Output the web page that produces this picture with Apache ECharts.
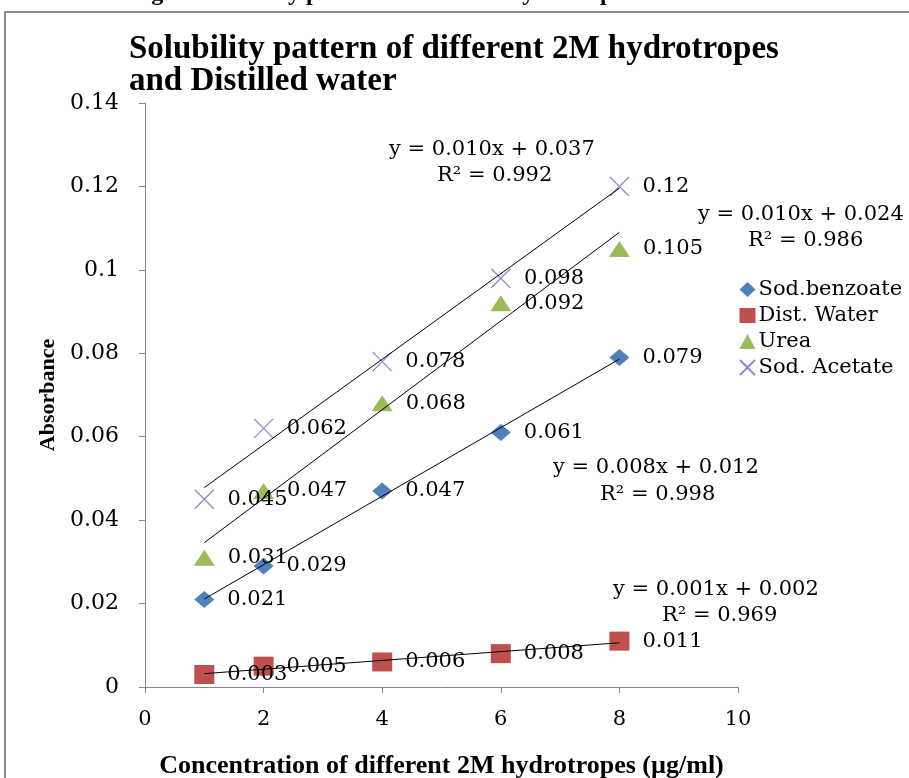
<!DOCTYPE html>
<html><head><meta charset="utf-8">
<script src="https://cdn.jsdelivr.net/npm/echarts@6/dist/echarts.min.js"></script>
<style>html,body{margin:0;padding:0;background:#fff}#c{width:909px;height:778px}</style>
</head><body><div id="c"></div>
<script>
var xValues = [1, 2, 4, 6, 8];
var sodBenzoate = [0.021, 0.029, 0.047, 0.061, 0.079];
var distWater = [0.003, 0.005, 0.006, 0.008, 0.011];
var urea = [0.031, 0.047, 0.068, 0.092, 0.105];
var sodAcetate = [0.045, 0.062, 0.078, 0.098, 0.12];
var seriesNames = ['Sod.benzoate', 'Dist. Water', 'Urea', 'Sod. Acetate'];
// trendline end points at x = 1 and x = 8
var trendX = [1, 8];
var trendBenzoate = [0.0211, 0.0786];
var trendWater = [0.0032, 0.0106];
var trendUrea = [0.0346, 0.1090];
var trendAcetate = [0.0478, 0.1196];
var equations = [
  ['y = 0.010x + 0.037', 'R² = 0.992'],
  ['y = 0.010x + 0.024', 'R² = 0.986'],
  ['y = 0.008x + 0.012', 'R² = 0.998'],
  ['y = 0.001x + 0.002', 'R² = 0.969']
];
var xTicks = [0, 2, 4, 6, 8, 10];

var serif = 'DejaVu Serif';
var times = 'Liberation Serif';
var xPath = 'path://M0,0L10,10M10,0L0,10';

function pts(ys){ return xValues.map(function(x,i){ return [x, ys[i]]; }); }
function tline(ys){ return trendX.map(function(x,i){ return [x, ys[i]]; }); }

var lbl = { show: true, position: 'right', distance: 13, color: '#000', fontFamily: serif, fontSize: 21,
  formatter: function(p){ return String(p.value[1]); } };

function scatter(name, ys, symbol, size, style){
  style.opacity = 1;
  return { name: name, type: 'scatter', data: pts(ys), symbol: symbol, symbolSize: size,
    itemStyle: style, label: lbl, z: 2, emphasis: { disabled: true } };
}
function trend(ys){
  return { type: 'line', data: tline(ys), symbol: 'none', silent: true, z: 3,
    lineStyle: { color: '#000', width: 1 } };
}

var chart = echarts.init(document.getElementById('c'));
var eqStyle = { fill: '#000', fontFamily: serif, fontSize: 21 };
function eqText(t, x, y){ return { type: 'text', left: x, top: y, style: Object.assign({ text: t }, eqStyle) }; }

chart.setOption({
  animation: false,
  backgroundColor: '#fff',
  title: {
    text: 'Solubility pattern of different 2M hydrotropes\nand Distilled water',
    left: 124, top: 28,
    textStyle: { fontFamily: times, fontWeight: 'bold', fontSize: 33, lineHeight: 32, color: '#000' }
  },
  legend: {
    orient: 'vertical', left: 734, top: 274, itemGap: 5, itemWidth: 16, itemHeight: 15,
    data: [
      { name: seriesNames[0], icon: 'diamond' },
      { name: seriesNames[1], icon: 'rect' },
      { name: seriesNames[2], icon: 'triangle' },
      { name: seriesNames[3], icon: xPath }
    ],
    textStyle: { fontFamily: serif, fontSize: 21, color: '#000', padding: [0,0,0,-2] }
  },
  grid: { left: 145, right: 171, top: 103, bottom: 91, containLabel: false, outerBoundsMode: 'none' },
  xAxis: {
    type: 'value', min: 0, max: 10, interval: 2,
    name: 'Concentration of different 2M hydrotropes (µg/ml)',
    nameLocation: 'middle', nameGap: 66,
    nameTextStyle: { fontFamily: times, fontWeight: 'bold', fontSize: 26, color: '#000' },
    axisLine: { lineStyle: { color: '#868686', width: 1 } },
    axisTick: { show: true, inside: false, length: 6, lineStyle: { color: '#868686' } },
    axisLabel: { margin: 22, fontFamily: serif, fontSize: 21, color: '#000',
      formatter: function(v){ return xTicks.indexOf(v) >= 0 ? String(v) : ''; } },
    splitLine: { show: false }
  },
  yAxis: {
    type: 'value', min: 0, max: 0.14, interval: 0.02,
    name: 'Absorbance', nameLocation: 'middle', nameGap: 84,
    nameTextStyle: { fontFamily: times, fontWeight: 'bold', fontSize: 22, color: '#000' },
    axisLine: { show: true, lineStyle: { color: '#868686', width: 1 } },
    axisTick: { show: true, inside: false, length: 6, lineStyle: { color: '#868686' } },
    axisLabel: { margin: 26, fontFamily: serif, fontSize: 22, color: '#000',
      formatter: function(v){ return String(Math.round(v*100)/100); } },
    splitLine: { show: false }
  },
  graphic: [
    { type: 'polyline', shape: { points: [[5,778],[5,12],[909,12]] }, style: { stroke: '#8a8a8a', lineWidth: 2, fill: null } },
    { type: 'text', left: 130, top: -18, style: { text: 'Fig. 2: Solubility pattern of different hydrotropes at concentration of 2M.', fill: '#000', fontFamily: times, fontWeight: 'bold', fontSize: 24 } },
    eqText(equations[0][0], 389, 139), eqText(equations[0][1], 437, 165),
    eqText(equations[1][0], 698, 204), eqText(equations[1][1], 748, 230),
    eqText(equations[2][0], 553, 457), eqText(equations[2][1], 600, 484),
    eqText(equations[3][0], 613, 579), eqText(equations[3][1], 662, 605)
  ],
  series: [
    scatter(seriesNames[0], sodBenzoate, 'diamond', [20,17], { color: '#4F81BD' }),
    scatter(seriesNames[1], distWater, 'rect', [20,19], { color: '#C0504D' }),
    scatter(seriesNames[2], urea, 'triangle', [21,16], { color: '#9BBB59' }),
    scatter(seriesNames[3], sodAcetate, xPath, [19,19], { color: 'rgba(0,0,0,0)', borderColor: '#9A86C8', borderWidth: 1.3 }),
    trend(trendBenzoate), trend(trendWater), trend(trendUrea), trend(trendAcetate)
  ]
});
</script></body></html>
